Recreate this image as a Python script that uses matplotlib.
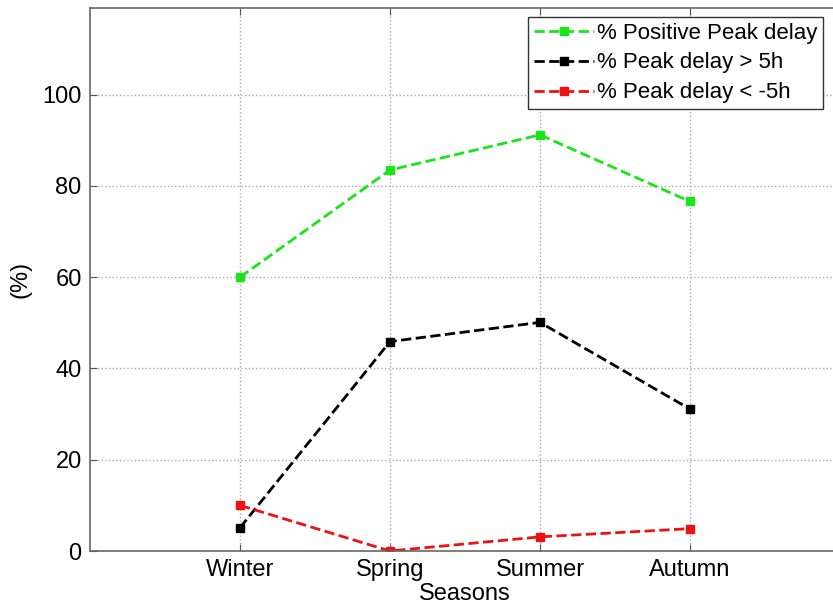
import matplotlib
matplotlib.use('Agg')
import matplotlib.pyplot as plt

plt.rcParams['font.family'] = ['Liberation Sans', 'DejaVu Sans']

seasons = ['Winter', 'Spring', 'Summer', 'Autumn']
positive_delay = [60.0, 83.5, 91.2, 76.6]
delay_gt_5h = [5.1, 45.9, 50.1, 31.1]
delay_lt_m5h = [10.0, 0.0, 3.1, 4.9]

x = [1, 2, 3, 4]

fig = plt.figure(figsize=(8.33, 6.07), dpi=100)
# axes run slightly past the right edge of the figure
ax = fig.add_axes([90 / 833, 1 - 551 / 607, 750 / 833, 543 / 607])

ax.plot(x, positive_delay, '--s', color='#19e619', lw=2, ms=6,
        label='% Positive Peak delay')
ax.plot(x, delay_gt_5h, '--s', color='black', lw=2, ms=6,
        label='% Peak delay > 5h')
ax.plot(x, delay_lt_m5h, '--s', color='#ee1111', lw=2, ms=6,
        label='% Peak delay < -5h')

ax.set_xlim(0, 5)
ax.set_ylim(0, 119)
ax.set_xticks(x)
ax.set_xticklabels(seasons)
ax.set_yticks([0, 20, 40, 60, 80, 100])
ax.tick_params(direction='in', labelsize=17, top=True, right=True,
               length=5, color='#555555', pad=6)
ax.grid(True, linestyle=':', color='#aaaaaa', lw=1)
for s in ax.spines.values():
    s.set_color('#666666')
    s.set_linewidth(1.2)

ax.set_xlabel('Seasons', fontsize=17, labelpad=1)
ax.set_ylabel('(%)', fontsize=17, labelpad=8)

leg = ax.legend(loc='upper right', bbox_to_anchor=(823 / 833, 1 - 17 / 607),
                bbox_transform=fig.transFigure, fontsize=16, fancybox=False,
                framealpha=1, edgecolor='#333333', borderpad=0.25,
                labelspacing=0.4, handlelength=2.7, handletextpad=0.15,
                borderaxespad=0, markerscale=0.85)
leg.get_frame().set_linewidth(1)

fig.savefig('out.png', dpi=100)
